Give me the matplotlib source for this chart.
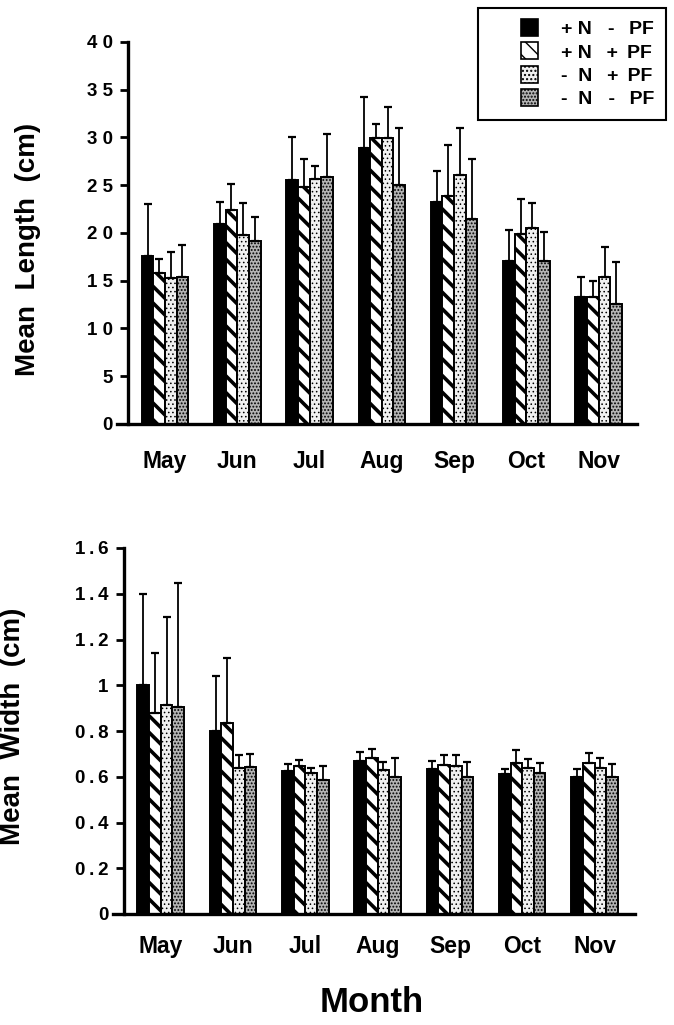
import numpy as np
import matplotlib
matplotlib.use("Agg")
import matplotlib.pyplot as plt
import matplotlib.patches as mpatches
from matplotlib.legend_handler import HandlerPatch

plt.rcParams['font.family'] = ['Liberation Sans', 'DejaVu Sans']
plt.rcParams['font.weight'] = 'bold'

ts = '\u2009'  # thin space, used for the wide-set labels

months = ['May', 'Jun', 'Jul', 'Aug', 'Sep', 'Oct', 'Nov']
treatments = ['+ N   -  ' + ts + 'PF',
              '+ N  ' + ts + '+ ' + ts + 'PF',
              '-  N  ' + ts + '+ ' + ts + 'PF',
              '-  N   -  ' + ts + 'PF']

# mean length (cm) and upper error per treatment, May..Nov
len_nminus_pf = [17.6, 20.9, 25.5, 28.9, 23.2, 17.1, 13.3]
len_npf = [15.8, 22.4, 24.8, 29.9, 23.9, 19.9, 13.3]
len_minus_n_pf = [15.3, 19.8, 25.7, 29.9, 26.1, 20.5, 15.4]
len_minus_n_minus_pf = [15.4, 19.2, 25.9, 25.0, 21.5, 17.1, 12.6]

len_err_1 = [5.4, 2.3, 4.6, 5.3, 3.3, 3.2, 2.1]
len_err_2 = [1.5, 2.7, 2.9, 1.5, 5.3, 3.7, 1.7]
len_err_3 = [2.7, 3.3, 1.3, 3.3, 4.9, 2.6, 3.1]
len_err_4 = [3.3, 2.5, 4.5, 6.0, 6.2, 3.0, 4.4]

# mean width (cm) and upper error per treatment
wid_nminus_pf = [1.00, 0.80, 0.623, 0.668, 0.635, 0.61, 0.598]
wid_npf = [0.88, 0.835, 0.648, 0.684, 0.652, 0.66, 0.66]
wid_minus_n_pf = [0.915, 0.637, 0.615, 0.628, 0.645, 0.64, 0.64]
wid_minus_n_minus_pf = [0.905, 0.641, 0.585, 0.60, 0.60, 0.617, 0.597]

wid_err_1 = [0.40, 0.24, 0.032, 0.042, 0.034, 0.022, 0.035]
wid_err_2 = [0.26, 0.285, 0.025, 0.036, 0.042, 0.055, 0.045]
wid_err_3 = [0.385, 0.057, 0.023, 0.036, 0.048, 0.037, 0.044]
wid_err_4 = [0.54, 0.06, 0.063, 0.08, 0.063, 0.045, 0.06]

length_ticks = [0, 5, 10, 15, 20, 25, 30, 35, 40]
width_ticks = [0, 0.2, 0.4, 0.6, 0.8, 1.0, 1.2, 1.4, 1.6]
length_tick_labels = ['0', '5', '1 0', '1 5', '2 0', '2 5', '3 0', '3 5', '4 0']
width_tick_labels = ['0', '0.2', '0.4', '0.6', '0.8', '1', '1.2', '1.4', '1.6']

length_means = [len_nminus_pf, len_npf, len_minus_n_pf, len_minus_n_minus_pf]
length_errs = [len_err_1, len_err_2, len_err_3, len_err_4]
width_means = [wid_nminus_pf, wid_npf, wid_minus_n_pf, wid_minus_n_minus_pf]
width_errs = [wid_err_1, wid_err_2, wid_err_3, wid_err_4]

# bar styles: solid black, diagonal stripes, light stipple, dark stipple
styles = [
    dict(facecolor='black', hatch=None),
    dict(facecolor='white', hatch='\\\\'),
    dict(facecolor='#f0f0f0', hatch='....'),
    dict(facecolor='#b4b4b4', hatch='.....'),
]
hatch_lw = [1.0, 2.6, 0.6, 0.9]

bar_w = 0.161
x = np.arange(len(months))


def draw_panel(ax, means, errs, ylim, yticks, yticklabels, xlim):
    ax.spines['left'].set_position(('data', xlim[0] + 0.152))
    for i in range(4):
        pos = x + (i - 1.5) * bar_w
        bars = ax.bar(pos, means[i], width=bar_w, edgecolor='black',
                      linewidth=1.4, zorder=2, **styles[i])
        for b in bars:
            if hasattr(b, 'set_hatch_linewidth'):
                b.set_hatch_linewidth(hatch_lw[i])
        ax.errorbar(pos, means[i], yerr=[np.zeros(len(months)), errs[i]],
                    fmt='none', ecolor='black', elinewidth=1.3,
                    capsize=2.8, capthick=1.6, zorder=3)
    ax.set_xlim(*xlim)
    ax.set_ylim(*ylim)
    ax.set_yticks(yticks)
    ax.set_yticklabels(yticklabels, fontsize=13.5, fontweight='bold')
    ax.set_xticks(x)
    ax.set_xticklabels(months, fontsize=16.5, fontweight='bold')
    ax.tick_params(axis='x', length=0)
    ax.tick_params(axis='y', direction='out', length=6, width=2, pad=5)
    for s in ['top', 'right']:
        ax.spines[s].set_visible(False)
    ax.spines['left'].set_linewidth(2.4)
    ax.spines['bottom'].set_linewidth(2.4)


fig = plt.figure(figsize=(6.74, 10.25), dpi=100)

ax1 = fig.add_axes([117 / 674, 1 - 424 / 1025, 520 / 674, 382 / 1025])
draw_panel(ax1, length_means, length_errs, (0, 40),
           length_ticks, length_tick_labels, (-0.664, 6.53))
ax1.tick_params(axis='x', pad=19)

ax2 = fig.add_axes([113 / 674, 1 - 914 / 1025, 522 / 674, 366 / 1025])
draw_panel(ax2, width_means, width_errs, (0, 1.6), width_ticks,
           [s.replace('.', ts + '.' + ts) for s in width_tick_labels],
           (-0.66, 6.56))
ax2.tick_params(axis='x', pad=15)

fig.text(28 / 674, 1 - 249 / 1025, 'Mean  Length  (cm)', rotation=90,
         ha='center', va='center', fontsize=20, fontweight='bold')
fig.text(13 / 674, 1 - 726 / 1025, 'Mean  Width  (cm)', rotation=90,
         ha='center', va='center', fontsize=20, fontweight='bold')
fig.text(372 / 674, 1 - 1002 / 1025, 'Month', ha='center', va='center',
         fontsize=25, fontweight='bold')


# legend swatch: small square pushed to the right of a wide handle box
def square_swatch(legend, orig_handle, xdescent, ydescent, width, height,
                  fontsize):
    size = 0.875 * fontsize
    return mpatches.Rectangle((-xdescent + width - size,
                               -ydescent + (height - size) / 2), size, size)


handles = []
for i in range(4):
    p = mpatches.Patch(edgecolor='black', linewidth=1.2, **styles[i])
    if hasattr(p, 'set_hatch_linewidth'):
        p.set_hatch_linewidth(hatch_lw[i])
    handles.append(p)

leg = fig.legend(handles, treatments, loc='upper right',
                 bbox_to_anchor=(666 / 674, 1 - 8 / 1025),
                 handler_map={mpatches.Patch: HandlerPatch(patch_func=square_swatch)},
                 frameon=True, fancybox=False, framealpha=1,
                 edgecolor='black', handlelength=2.48, handleheight=0.875,
                 handletextpad=1.18, labelspacing=0.24, borderpad=0.6,
                 borderaxespad=0, prop={'size': 14, 'weight': 'bold'})
leg.get_frame().set_linewidth(1.5)

fig.savefig('out.png', dpi=100)
